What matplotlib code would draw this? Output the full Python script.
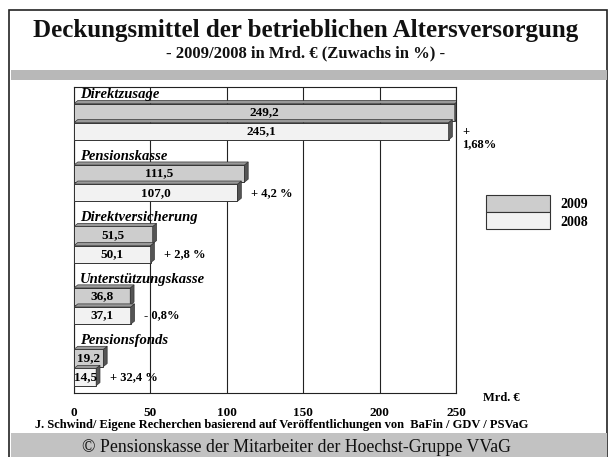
import matplotlib
matplotlib.use("Agg")
import matplotlib.pyplot as plt
from matplotlib.patches import Rectangle, Polygon

plt.rcParams['font.family'] = ['Liberation Serif', 'DejaVu Serif']

# data (Mrd. EUR)
categories = ["Direktzusage", "Pensionskasse", "Direktversicherung",
              "Unterstützungskasse", "Pensionsfonds"]
values_2009 = [249.2, 111.5, 51.5, 36.8, 19.2]
values_2008 = [245.1, 107.0, 50.1, 37.1, 14.5]
growth = ["+\n1,68%", "+ 4,2 %", "+ 2,8 %", "- 0,8%", "+ 32,4 %"]
labels_2009 = ["249,2", "111,5", "51,5", "36,8", "19,2"]
labels_2008 = ["245,1", "107,0", "50,1", "37,1", "14,5"]
xticks = [0, 50, 100, 150, 200, 250]

W, H = 610, 457
fig = plt.figure(figsize=(W / 100, H / 100), dpi=100)

def fx(px):
    return px / W

def fy(py):
    return 1 - py / H

# outer frame and gray bands
fig.patches.append(Rectangle((fx(9), -0.01), fx(598), fy(10) + 0.01, transform=fig.transFigure,
                             fill=False, edgecolor='#222222', lw=1.2))
fig.patches.append(Rectangle((fx(11), fy(80)), fx(596), 10 / H, transform=fig.transFigure,
                             facecolor='#b8b8b8', edgecolor='none'))
fig.patches.append(Rectangle((fx(11), 0), fx(596), 24 / H, transform=fig.transFigure,
                             facecolor='#c2c2c2', edgecolor='none'))

fig.text(fx(306), fy(31), "Deckungsmittel der betrieblichen Altersversorgung",
         ha='center', va='center', fontsize=18, fontweight='bold', color='#111111')
fig.text(fx(306), fy(53), "- 2009/2008 in Mrd. € (Zuwachs in %) -",
         ha='center', va='center', fontsize=12, fontweight='bold', color='#111111')

ax = fig.add_axes([fx(74), fy(393), fx(456) - fx(74), (393 - 87) / H])
ax.set_xlim(0, 250)
ax.set_ylim(4.57, -0.41)

h = 0.28
gap = 0.31
d, dy = 2.5, 0.05
for i, cat in enumerate(categories):
    y9 = i
    y8 = i + gap
    for y, v, col in [(y9, values_2009[i], '#cdcdcd'), (y8, values_2008[i], '#f2f2f2')]:
        ax.barh(y, v, height=h, color=col, edgecolor='#333333', lw=0.7, zorder=3)
        # side and top faces for the 3d look
        ax.add_patch(Polygon([(v, y - h / 2), (v + d, y - h / 2 - dy), (v + d, y + h / 2 - dy),
                              (v, y + h / 2)], closed=True, facecolor='#555555',
                             edgecolor='#333333', lw=0.5, zorder=3))
        ax.add_patch(Polygon([(0, y - h / 2), (d, y - h / 2 - dy), (v + d, y - h / 2 - dy),
                              (v, y - h / 2)], closed=True, facecolor='#999999',
                             edgecolor='#333333', lw=0.5, zorder=3))
    ax.text(values_2009[i] / 2, y9, labels_2009[i], ha='center', va='center',
            fontsize=9.5, fontweight='bold', zorder=4)
    ax.text(values_2008[i] / 2, y8, labels_2008[i], ha='center', va='center',
            fontsize=9.5, fontweight='bold', zorder=4)
    ax.text(4, y9 - 0.28, cat, ha='left', va='center', fontsize=10.5,
            fontweight='bold', fontstyle='italic', zorder=4)
    ax.text(values_2008[i] + 9, y8 + 0.11 * growth[i].count("\n"), growth[i],
            ha='left', va='center', fontsize=9, fontweight='bold', clip_on=False,
            zorder=4, linespacing=1.0)

ax.set_xticks(xticks)
ax.xaxis.grid(True, color='#222222', lw=0.8, zorder=1)
ax.set_yticks([])
ax.tick_params(axis='x', length=0, pad=10, labelsize=9.5)
for lab in ax.get_xticklabels():
    lab.set_fontweight('bold')
for s in ax.spines.values():
    s.set_color('#222222')
    s.set_linewidth(0.8)

fig.text(fx(483), fy(398), "Mrd. €", ha='left', va='center', fontsize=9, fontweight='bold')

# legend
fig.patches.append(Rectangle((fx(486), fy(212)), fx(64), 17 / H, transform=fig.transFigure,
                             facecolor='#cdcdcd', edgecolor='#333333', lw=0.8))
fig.patches.append(Rectangle((fx(486), fy(229)), fx(64), 17 / H, transform=fig.transFigure,
                             facecolor='#f2f2f2', edgecolor='#333333', lw=0.8))
fig.text(fx(560), fy(205), "2009", ha='left', va='center', fontsize=10, fontweight='bold')
fig.text(fx(560), fy(223), "2008", ha='left', va='center', fontsize=10, fontweight='bold')

fig.text(fx(35), fy(425),
         "J. Schwind/ Eigene Recherchen basierend auf Veröffentlichungen von  BaFin / GDV / PSVaG",
         ha='left', va='center', fontsize=9, fontweight='bold')
fig.text(fx(297), fy(447), "© Pensionskasse der Mitarbeiter der Hoechst-Gruppe VVaG",
         ha='center', va='center', fontsize=12.8, color='#111111')

fig.savefig("out.png", dpi=100)
